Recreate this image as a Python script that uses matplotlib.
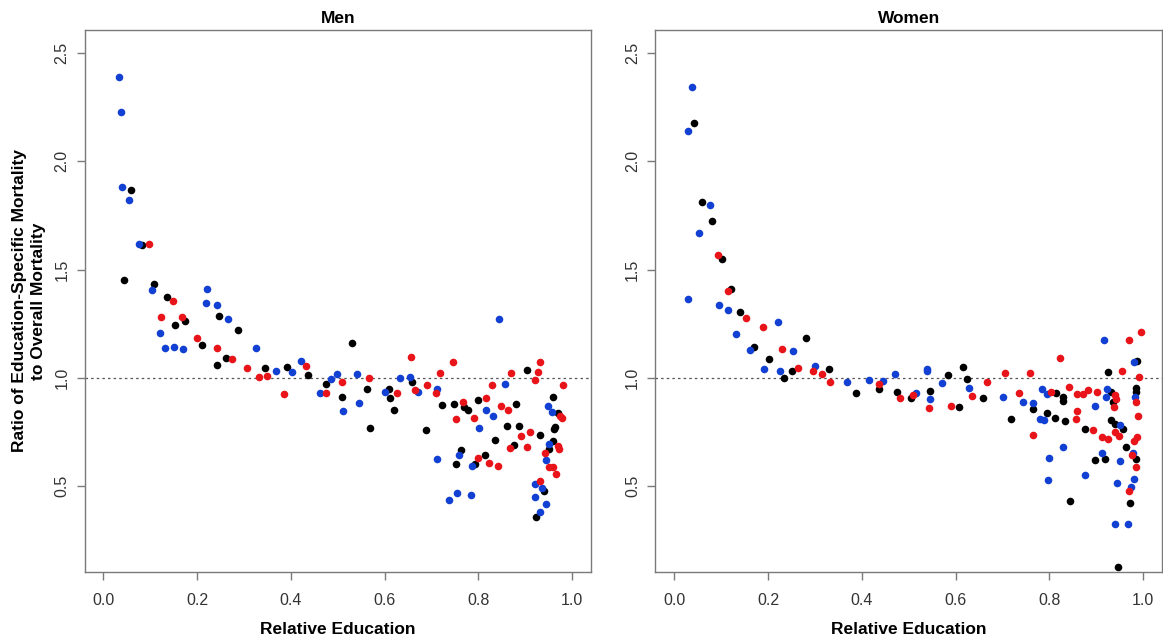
import matplotlib
matplotlib.use("Agg")
import matplotlib.pyplot as plt

# ---- data (relative education, mortality ratio) ----
men_blue_x = [0.034, 0.038, 0.040, 0.055, 0.077, 0.103, 0.222, 0.219, 0.243, 0.266, 0.121, 0.132, 0.151,
              0.169, 0.325, 0.369, 0.402, 0.422, 0.461, 0.485, 0.499, 0.512, 0.542, 0.546, 0.601, 0.632,
              0.653, 0.672, 0.712, 0.802, 0.817, 0.832, 0.844, 0.857, 0.948, 0.957, 0.950, 0.944, 0.758,
              0.712, 0.787, 0.738, 0.754, 0.783, 0.920, 0.936, 0.921, 0.943, 0.932]
men_blue_y = [2.387, 2.226, 1.882, 1.822, 1.616, 1.406, 1.409, 1.345, 1.337, 1.270, 1.208, 1.140, 1.143,
              1.132, 1.136, 1.032, 1.028, 1.078, 0.931, 0.993, 1.017, 0.846, 1.017, 0.882, 0.935, 1.000,
              1.006, 0.933, 0.949, 0.771, 0.851, 0.826, 1.270, 0.974, 0.868, 0.842, 0.693, 0.620, 0.642,
              0.626, 0.593, 0.438, 0.467, 0.459, 0.509, 0.491, 0.451, 0.420, 0.383]

men_red_x = [0.098, 0.149, 0.124, 0.167, 0.200, 0.243, 0.275, 0.307, 0.332, 0.348, 0.385, 0.433, 0.475,
             0.510, 0.566, 0.627, 0.657, 0.665, 0.691, 0.745, 0.719, 0.710, 0.767, 0.752, 0.791, 0.817,
             0.829, 0.847, 0.863, 0.869, 0.931, 0.927, 0.920, 0.981, 0.974, 0.978, 0.909, 0.890, 0.867,
             0.903, 0.969, 0.972, 0.941, 0.950, 0.959, 0.965, 0.800, 0.823, 0.842, 0.931]
men_red_y = [1.616, 1.355, 1.279, 1.283, 1.182, 1.136, 1.088, 1.046, 1.003, 1.011, 0.926, 1.054, 0.928,
             0.979, 0.999, 0.931, 1.097, 0.943, 0.966, 1.072, 1.022, 0.929, 0.888, 0.811, 0.813, 0.909,
             0.968, 0.871, 0.854, 1.023, 1.074, 1.026, 0.989, 0.966, 0.825, 0.817, 0.748, 0.731, 0.677,
             0.682, 0.686, 0.672, 0.652, 0.587, 0.589, 0.556, 0.629, 0.606, 0.593, 0.524]

men_black_x = [0.058, 0.083, 0.044, 0.108, 0.135, 0.247, 0.174, 0.153, 0.287, 0.210, 0.261, 0.242, 0.344,
               0.392, 0.437, 0.474, 0.508, 0.530, 0.563, 0.569, 0.609, 0.612, 0.620, 0.658, 0.688, 0.723,
               0.748, 0.769, 0.778, 0.800, 0.879, 0.903, 0.958, 0.970, 0.860, 0.886, 0.964, 0.961, 0.932,
               0.835, 0.875, 0.958, 0.950, 0.763, 0.752, 0.814, 0.792, 0.940, 0.923]
men_black_y = [1.869, 1.613, 1.454, 1.432, 1.375, 1.285, 1.263, 1.242, 1.223, 1.154, 1.091, 1.060, 1.045,
               1.051, 1.014, 0.974, 0.912, 1.159, 0.951, 0.771, 0.951, 0.905, 0.851, 0.979, 0.760, 0.875,
               0.879, 0.865, 0.854, 0.897, 0.879, 1.037, 0.914, 0.836, 0.779, 0.780, 0.772, 0.762, 0.737,
               0.714, 0.688, 0.709, 0.670, 0.665, 0.602, 0.642, 0.603, 0.477, 0.356]

women_blue_x = [0.037, 0.029, 0.076, 0.053, 0.029, 0.096, 0.114, 0.222, 0.131, 0.162, 0.253, 0.192, 0.226,
                0.301, 0.369, 0.416, 0.445, 0.471, 0.515, 0.540, 0.540, 0.545, 0.572, 0.629, 0.702, 0.744,
                0.766, 0.779, 0.789, 0.785, 0.794, 0.898, 0.830, 0.799, 0.798, 0.875, 0.913, 0.916, 0.922,
                0.921, 0.951, 0.950, 0.944, 0.940, 0.967, 0.981, 0.983, 0.979, 0.981, 0.974]
women_blue_y = [2.343, 2.139, 1.800, 1.667, 1.363, 1.337, 1.313, 1.256, 1.202, 1.131, 1.123, 1.042, 1.034,
                1.057, 0.982, 0.989, 0.986, 1.017, 0.931, 1.032, 1.042, 0.901, 0.977, 0.952, 0.913, 0.888,
                0.882, 0.811, 0.805, 0.947, 0.925, 0.868, 0.679, 0.628, 0.530, 0.554, 0.653, 1.177, 0.947,
                0.910, 0.782, 0.617, 0.513, 0.325, 0.325, 1.072, 0.910, 0.654, 0.533, 0.497]

women_red_x = [0.093, 0.114, 0.154, 0.190, 0.230, 0.263, 0.296, 0.316, 0.332, 0.436, 0.481, 0.509, 0.543,
               0.590, 0.634, 0.666, 0.706, 0.735, 0.759, 0.766, 0.804, 0.823, 0.841, 0.858, 0.872, 0.883,
               0.902, 0.859, 0.856, 0.892, 0.912, 0.924, 0.939, 0.942, 0.937, 0.939, 0.949, 0.969, 0.995,
               0.955, 0.991, 0.984, 0.989, 0.986, 0.981, 0.977, 0.984, 0.970]
women_red_y = [1.565, 1.402, 1.276, 1.234, 1.132, 1.045, 1.030, 1.020, 0.983, 0.974, 0.905, 0.920, 0.862,
               0.871, 0.916, 0.982, 1.023, 0.931, 1.023, 0.737, 0.934, 1.092, 0.957, 0.925, 0.926, 0.942,
               0.934, 0.846, 0.810, 0.760, 0.729, 0.717, 0.920, 0.901, 0.866, 0.748, 0.733, 1.174, 1.213,
               1.034, 1.006, 0.890, 0.822, 0.725, 0.707, 0.642, 0.590, 0.477]

women_black_x = [0.042, 0.059, 0.080, 0.101, 0.121, 0.141, 0.282, 0.170, 0.203, 0.252, 0.330, 0.235, 0.388,
                 0.437, 0.474, 0.505, 0.545, 0.584, 0.607, 0.616, 0.624, 0.659, 0.719, 0.764, 0.794, 0.814,
                 0.828, 0.829, 0.812, 0.833, 0.875, 0.843, 0.898, 0.918, 0.924, 0.932, 0.935, 0.932, 0.939,
                 0.956, 0.964, 0.947, 0.986, 0.985, 0.984, 0.984, 0.971]
women_black_y = [2.177, 1.810, 1.722, 1.548, 1.411, 1.304, 1.182, 1.143, 1.088, 1.034, 1.042, 0.999, 0.928,
                 0.951, 0.935, 0.905, 0.938, 1.014, 0.864, 1.048, 0.994, 0.908, 0.810, 0.857, 0.836, 0.931,
                 0.913, 0.893, 0.816, 0.802, 0.762, 0.430, 0.622, 0.625, 1.025, 0.937, 0.887, 0.805, 0.787,
                 0.762, 0.679, 0.125, 1.080, 0.953, 0.935, 0.625, 0.423]

BLUE = "#1240d2"
RED = "#e8141a"
BLACK = "#000000"
GRAY = "#7a7a7a"

plt.rcParams["font.family"] = ["Liberation Sans", "DejaVu Sans"]

fig = plt.figure(figsize=(11.63, 6.44), dpi=100)
ax_men = fig.add_axes([0.0727, 0.1118, 0.4355, 0.8420])
ax_women = fig.add_axes([0.5636, 0.1118, 0.4355, 0.8420])


def draw_panel(ax, title, bx, by, rx, ry, kx, ky):
    ax.axhline(1.0, color="#555555", lw=0.9, ls=(0, (2, 2.5)), zorder=1)
    ax.scatter(kx, ky, s=30, c=BLACK, linewidths=0, zorder=2)
    ax.scatter(bx, by, s=30, c=BLUE, linewidths=0, zorder=3)
    ax.scatter(rx, ry, s=30, c=RED, linewidths=0, zorder=4)

    ax.set_xlim(-0.04, 1.04)
    ax.set_ylim(0.104, 2.607)
    ax.set_xticks([0.0, 0.2, 0.4, 0.6, 0.8, 1.0])
    ax.set_yticks([0.5, 1.0, 1.5, 2.0, 2.5])
    ax.set_xticklabels(["0.0", "0.2", "0.4", "0.6", "0.8", "1.0"])
    ax.set_yticklabels(["0.5", "1.0", "1.5", "2.0", "2.5"], rotation=90, va="center")

    for s in ax.spines.values():
        s.set_color(GRAY)
        s.set_linewidth(1.0)
    ax.tick_params(direction="out", length=6, width=1.0, color=GRAY,
                   labelsize=11.5, labelcolor="#333333")
    ax.tick_params(axis="x", pad=9)
    ax.tick_params(axis="y", pad=5)

    ax.set_title(title, fontsize=12.5, fontweight="bold", pad=5)
    ax.set_xlabel("Relative Education", fontsize=12.5, fontweight="bold", labelpad=10)


draw_panel(ax_men, "Men", men_blue_x, men_blue_y, men_red_x, men_red_y, men_black_x, men_black_y)
draw_panel(ax_women, "Women", women_blue_x, women_blue_y, women_red_x, women_red_y,
           women_black_x, women_black_y)

ax_men.set_ylabel("Ratio of Education-Specific Mortality\nto Overall Mortality",
                  fontsize=12.5, fontweight="bold", labelpad=6, linespacing=1.35)

fig.savefig("out.png", dpi=100)
